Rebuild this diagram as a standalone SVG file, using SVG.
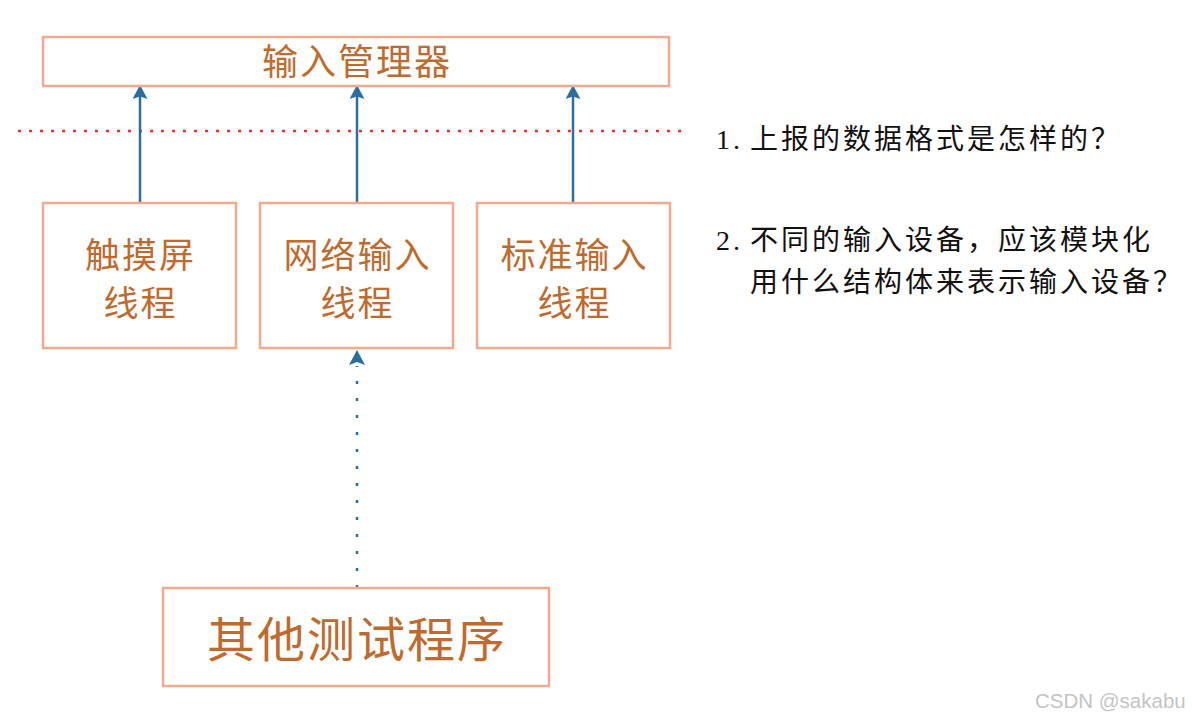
<svg xmlns="http://www.w3.org/2000/svg" width="1192" height="722" viewBox="0 0 1192 722">
<style>
.box{fill:#fff;stroke:#f4a98a;stroke-width:2.5}
.lbl{font-family:"Noto Sans CJK SC",sans-serif;fill:#c06a2e;letter-spacing:2px}
.note{font-family:"Liberation Serif","Noto Sans CJK SC",serif;fill:#111;font-size:28px;letter-spacing:3px}
.arr{stroke:#2b6e9f;stroke-width:2.5;fill:none}
</style>
<defs>
<marker id="ah" markerWidth="15" markerHeight="16" refX="14" refY="7.5" orient="auto" markerUnits="userSpaceOnUse">
<path d="M0,0 L14,7.5 L0,15 L2.5,7.5 Z" fill="#2b6e9f"/>
</marker>
</defs>
<rect width="1192" height="722" fill="#fff"/>
<g id="connectors">
<line x1="18" y1="131" x2="683" y2="131" stroke="#ff2a2a" stroke-width="2.5" stroke-dasharray="3 8"/>
<line class="arr" x1="140" y1="203" x2="140" y2="85" marker-end="url(#ah)"/>
<line class="arr" x1="357" y1="203" x2="357" y2="85" marker-end="url(#ah)"/>
<line class="arr" x1="573" y1="203" x2="573" y2="85" marker-end="url(#ah)"/>
<line class="arr" x1="357" y1="588" x2="357" y2="366" stroke-dasharray="3 14"/>
<path d="M357,350 L365,365 L357,362 L349,365 Z" fill="#2b6e9f"/>
</g>
<g id="manager">
<rect class="box" x="43" y="37" width="626" height="49"/>
<text class="lbl" x="262" y="75" font-size="36">输入管理器</text>
</g>
<g id="touch">
<rect class="box" x="43" y="203" width="193" height="145"/>
<text class="lbl" x="85" y="268" font-size="35">触摸屏</text>
<text class="lbl" x="103.5" y="316" font-size="35">线程</text>
</g>
<g id="net">
<rect class="box" x="260" y="203" width="193" height="145"/>
<text class="lbl" x="283.5" y="268" font-size="35">网络输入</text>
<text class="lbl" x="320.5" y="316" font-size="35">线程</text>
</g>
<g id="stdin">
<rect class="box" x="477" y="203" width="193" height="145"/>
<text class="lbl" x="500.5" y="268" font-size="35">标准输入</text>
<text class="lbl" x="537.5" y="316" font-size="35">线程</text>
</g>
<g id="other">
<rect class="box" x="163" y="588" width="386" height="98"/>
<text class="lbl" x="207" y="657" font-size="48">其他测试程序</text>
</g>
<g id="notes">
<text class="note" y="149"><tspan x="716">1.</tspan><tspan x="750">上报的数据格式是怎样的？</tspan></text>
<text class="note" y="250"><tspan x="716">2.</tspan><tspan x="750">不同的输入设备，应该模块化</tspan></text>
<text class="note" x="750" y="292">用什么结构体来表示输入设备？</text>
</g>
<text x="1035" y="708" font-family="Liberation Sans,sans-serif" font-size="20.5" fill="#c4c4c4">CSDN @sakabu</text>
</svg>
